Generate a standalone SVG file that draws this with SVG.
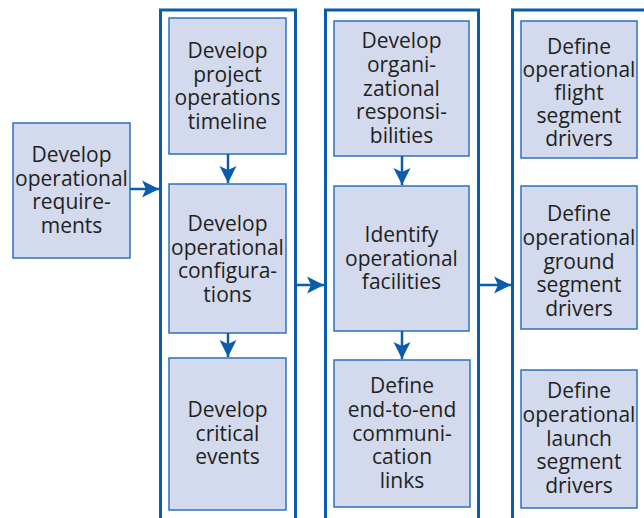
<svg xmlns="http://www.w3.org/2000/svg" width="644" height="518" viewBox="0 0 644 518">
<defs>
<style>
.box{fill:#d3daed;stroke:#2b72bd;stroke-width:1.5}
.col{fill:none;stroke:#0b5dab;stroke-width:3}
.con{fill:none;stroke:#0b5dab;stroke-width:2.5}
text{font-family:"Open Sans","Noto Sans",sans-serif;font-size:21px;fill:#231f20;text-anchor:middle}
</style>
<marker id="ah" markerUnits="userSpaceOnUse" markerWidth="20" markerHeight="20" viewBox="-18 -10 19 20" refX="0" refY="0" orient="auto">
<path d="M0,0 L-17,-8.5 L-13,0 L-17,8.5 Z" fill="#0b5dab"/>
</marker>
</defs>
<rect width="644" height="518" fill="#ffffff"/>
<g id="columns">
<path class="col" d="M160.5,518 V10 H295.5 V518"/>
<path class="col" d="M325.5,518 V10 H478.5 V518"/>
<path class="col" d="M512.5,518 V10 H646"/>
</g>
<g id="n-req">
<rect class="box" x="13" y="123" width="117" height="135"/>
<text x="71.5" y="162"><tspan x="71.5">Develop</tspan><tspan x="71.5" dy="23.5">operational</tspan><tspan x="71.5" dy="23.5">require-</tspan><tspan x="71.5" dy="23.5">ments</tspan></text>
</g>
<g id="n-timeline">
<rect class="box" x="169" y="18" width="117" height="136"/>
<text x="227.5" y="58"><tspan x="227.5">Develop</tspan><tspan x="227.5" dy="23.5">project</tspan><tspan x="227.5" dy="23.5">operations</tspan><tspan x="227.5" dy="23.5">timeline</tspan></text>
</g>
<g id="n-config">
<rect class="box" x="169" y="184" width="117" height="149"/>
<text x="227.5" y="231"><tspan x="227.5">Develop</tspan><tspan x="227.5" dy="23.5">operational</tspan><tspan x="227.5" dy="23.5">configura-</tspan><tspan x="227.5" dy="23.5">tions</tspan></text>
</g>
<g id="n-critical">
<rect class="box" x="169" y="358" width="117" height="152"/>
<text x="227.5" y="417"><tspan x="227.5">Develop</tspan><tspan x="227.5" dy="23.5">critical</tspan><tspan x="227.5" dy="23.5">events</tspan></text>
</g>
<g id="n-org">
<rect class="box" x="334" y="21" width="135" height="135"/>
<text x="401.5" y="48"><tspan x="401.5">Develop</tspan><tspan x="401.5" dy="23.75">organi-</tspan><tspan x="401.5" dy="23.75">zational</tspan><tspan x="401.5" dy="23.75">responsi-</tspan><tspan x="401.5" dy="23.75">bilities</tspan></text>
</g>
<g id="n-facilities">
<rect class="box" x="334" y="186" width="135" height="145"/>
<text x="401.5" y="242"><tspan x="401.5">Identify</tspan><tspan x="401.5" dy="23.5">operational</tspan><tspan x="401.5" dy="23.5">facilities</tspan></text>
</g>
<g id="n-links">
<rect class="box" x="334" y="360" width="136" height="147"/>
<text x="402" y="393"><tspan x="402">Define</tspan><tspan x="402" dy="23.75">end-to-end</tspan><tspan x="402" dy="23.75">communi-</tspan><tspan x="402" dy="23.75">cation</tspan><tspan x="402" dy="23.75">links</tspan></text>
</g>
<g id="n-flight">
<rect class="box" x="521" y="21" width="116" height="137"/>
<text x="579" y="54"><tspan x="579">Define</tspan><tspan x="579" dy="23">operational</tspan><tspan x="579" dy="23">flight</tspan><tspan x="579" dy="23">segment</tspan><tspan x="579" dy="23">drivers</tspan></text>
</g>
<g id="n-ground">
<rect class="box" x="521" y="186" width="116" height="143"/>
<text x="579" y="221"><tspan x="579">Define</tspan><tspan x="579" dy="23.75">operational</tspan><tspan x="579" dy="23.75">ground</tspan><tspan x="579" dy="23.75">segment</tspan><tspan x="579" dy="23.75">drivers</tspan></text>
</g>
<g id="n-launch">
<rect class="box" x="521" y="370" width="116" height="138"/>
<text x="579" y="398"><tspan x="579">Define</tspan><tspan x="579" dy="23.75">operational</tspan><tspan x="579" dy="23.75">launch</tspan><tspan x="579" dy="23.75">segment</tspan><tspan x="579" dy="23.75">drivers</tspan></text>
</g>
<g id="connectors">
<line class="con" x1="130" y1="189" x2="159" y2="189" marker-end="url(#ah)"/>
<line class="con" x1="297" y1="285" x2="324" y2="285" marker-end="url(#ah)"/>
<line class="con" x1="480" y1="285" x2="511" y2="285" marker-end="url(#ah)"/>
<line class="con" x1="228" y1="154" x2="228" y2="183" marker-end="url(#ah)"/>
<line class="con" x1="228" y1="333" x2="228" y2="357" marker-end="url(#ah)"/>
<line class="con" x1="402" y1="156" x2="402" y2="185" marker-end="url(#ah)"/>
<line class="con" x1="402" y1="331" x2="402" y2="359" marker-end="url(#ah)"/>
</g>
</svg>
